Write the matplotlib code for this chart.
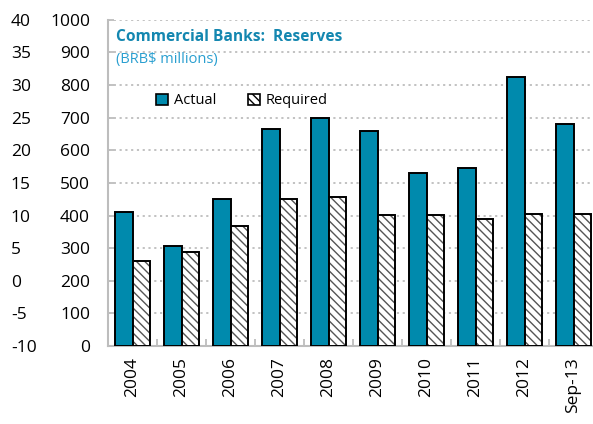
import numpy as np
import matplotlib
matplotlib.use("Agg")
import matplotlib.pyplot as plt
from matplotlib.patches import Patch

plt.rcParams['font.family'] = ['Open Sans', 'DejaVu Sans']
plt.rcParams['hatch.linewidth'] = 1.0

years = ['2004', '2005', '2006', '2007', '2008', '2009', '2010', '2011', '2012', 'Sep-13']
actual = [412, 307, 452, 665, 698, 659, 530, 547, 826, 681]
required = [261, 289, 368, 452, 458, 402, 402, 390, 406, 406]

inner_ticks = np.arange(0, 1001, 100)
outer_ticks = np.arange(-10, 41, 5)

teal = '#008AAD'
grid_gray = '#BDBDBD'

fig = plt.figure(figsize=(5.93, 4.24), dpi=100)
ax = fig.add_axes([108/593, 78/424, 490/593, 326.2/424])

x = np.arange(len(years))
w = 0.36
ax.bar(x - w/2, actual, w, color=teal, edgecolor='black', linewidth=1.4, zorder=3)
# hatch in gray, outline in black
ax.bar(x + w/2, required, w, color='white', edgecolor='#555555', hatch='\\\\\\\\',
       linewidth=0, zorder=3)
ax.bar(x + w/2, required, w, color='none', edgecolor='black', linewidth=1.4, zorder=4)

ax.set_xlim(-0.5, len(years) - 0.5)
ax.set_ylim(0, 1000)
ax.set_yticks(inner_ticks)
ax.set_yticklabels([str(v) for v in inner_ticks])
ax.yaxis.grid(True, linestyle=(0, (1.2, 2)), color=grid_gray, linewidth=1.3, zorder=0)

ax.set_xticks(x)
ax.set_xticklabels(years, rotation=90, fontsize=12.5)
ax.set_xticks(np.arange(-0.5, len(years), 1), minor=True)
ax.tick_params(axis='x', which='major', length=0, pad=8)
ax.tick_params(axis='x', which='minor', direction='in', length=5, color=grid_gray, width=1.3)
ax.tick_params(axis='y', direction='in', length=4, color=grid_gray, width=1.3,
               labelsize=12.5, pad=13)

for side in ['top', 'right']:
    ax.spines[side].set_visible(False)
for side in ['left', 'bottom']:
    ax.spines[side].set_color(grid_gray)
    ax.spines[side].set_linewidth(1.5)

# outer label column
ax2 = ax.twinx()
ax2.set_ylim(-10, 40)
ax2.yaxis.tick_left()
ax2.set_yticks(outer_ticks)
ax2.set_yticklabels([str(v) for v in outer_ticks], ha='left')
ax2.tick_params(axis='y', length=0, labelsize=12.5, pad=70)
for side in ['top', 'right', 'left', 'bottom']:
    ax2.spines[side].set_visible(False)

fig.text(116/593, 1 - 37/424, 'Commercial Banks:  Reserves', color='#1487B0',
         fontsize=11.2, fontweight='bold', va='center')
fig.text(116/593, 1 - 59/424, '(BRB$ millions)', color='#2A9FD0',
         fontsize=10.5, va='center')

handles = [Patch(facecolor=teal, edgecolor='black', linewidth=1.2),
           Patch(facecolor='white', edgecolor='black', hatch='\\\\\\\\', linewidth=1.2)]
ax.legend(handles, ['Actual', 'Required'], ncol=2, loc='center', bbox_to_anchor=(242/593, 1 - 101/424),
          bbox_transform=fig.transFigure, frameon=False, fontsize=10.5,
          handlelength=0.8, handleheight=0.8, columnspacing=2.2, handletextpad=0.4)

fig.savefig('out.png', dpi=100)
